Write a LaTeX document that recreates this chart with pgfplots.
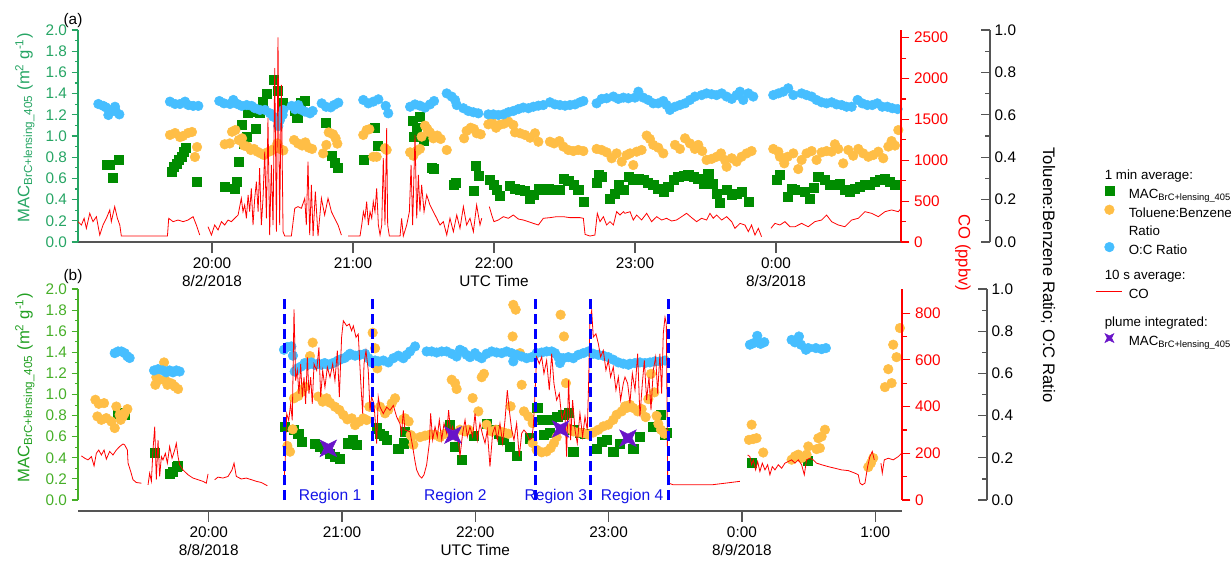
\documentclass[border=0pt]{standalone}
\usepackage{fontspec}
\setmainfont{Liberation Sans}
\usepackage{pgfplots}
\pgfplotsset{compat=1.18}

\definecolor{macg}{RGB}{0,140,0}
\definecolor{tbor}{RGB}{255,190,70}
\definecolor{ocb}{RGB}{70,190,255}
\definecolor{plum}{RGB}{105,20,200}
\definecolor{axA}{RGB}{38,165,100}
\definecolor{axB}{RGB}{70,175,40}
\definecolor{labB}{RGB}{34,160,34}
\definecolor{axgray}{RGB}{85,85,85}
\definecolor{regblue}{RGB}{20,20,230}

\pgfdeclareplotmark{star4}{%
 \pgfpathmoveto{\pgfqpoint{\pgfplotmarksize}{\pgfplotmarksize}}%
 \pgfpathlineto{\pgfqpoint{0pt}{0.5\pgfplotmarksize}}%
 \pgfpathlineto{\pgfqpoint{-\pgfplotmarksize}{\pgfplotmarksize}}%
 \pgfpathlineto{\pgfqpoint{-0.5\pgfplotmarksize}{0pt}}%
 \pgfpathlineto{\pgfqpoint{-\pgfplotmarksize}{-\pgfplotmarksize}}%
 \pgfpathlineto{\pgfqpoint{0pt}{-0.5\pgfplotmarksize}}%
 \pgfpathlineto{\pgfqpoint{\pgfplotmarksize}{-\pgfplotmarksize}}%
 \pgfpathlineto{\pgfqpoint{0.5\pgfplotmarksize}{0pt}}%
 \pgfpathclose\pgfusepathqfillstroke}

\newcommand\ft{\fontsize{11.5}{13.5}\selectfont}
\newcommand\fl{\fontsize{12.5}{14}\selectfont}
\newcommand\ls{\rule{0pt}{12.5pt}}
\newcommand\lsb{\rule{0pt}{17.5pt}}
\newcommand\lsc{\rule{0pt}{19.75pt}}

\pgfplotsset{
 /pgf/number format/assume math mode=true,
 every tick label/.append style={font=\ft},
 legmark/.style={legend image code/.code={\path[draw=none,fill=none] (0pt,-0.5pt) rectangle (19.5pt,0.5pt); \draw[##1] plot coordinates {(9.75pt,0pt)};}},
 legline/.style={legend image code/.code={\draw[##1] (0pt,0pt) -- (19.5pt,0pt);}},
 pa/.style={scale only axis, width=617.25pt, height=159pt, xmin=19.0496, xmax=24.887, anchor=south west, at={(58.5pt,-181.5pt)}},
 pb/.style={scale only axis, width=618pt, height=158.25pt, xmin=19.0195, xmax=25.201, anchor=south west, at={(58.5pt,-375pt)}},
 onefmt/.style={yticklabel style={/pgf/number format/fixed, /pgf/number format/fixed zerofill, /pgf/number format/precision=1}},
 macaxis/.style={ymin=0, ymax=2, hide x axis, axis y line*=left,
   y axis line style={draw=#1, line width=0.8pt, -},
   ytick={0,0.2,0.4,0.6,0.8,1.0,1.2,1.4,1.6,1.8,2.0}, minor y tick num=1,
   tick align=outside, major tick length=4.7pt, minor tick length=2.3pt,
   tick style={draw=#1, line width=0.8pt}, onefmt, yticklabel style={text=#1}},
 ratioaxis/.style={scale only axis, xmin=0, xmax=1, ymin=0, ymax=1, width=10pt, anchor=south west,
   hide x axis, axis y line*=right, y axis line style={draw=axgray, line width=0.9pt, -},
   ytick={0,0.2,0.4,0.6,0.8,1.0}, minor y tick num=1, tick align=inside,
   major tick length=6.75pt, minor tick length=3.75pt, tick style={draw=axgray, line width=0.9pt}, onefmt},
 coaxis/.style={hide x axis, axis y line*=right, y axis line style={draw=red, line width=0.8pt, -},
   minor y tick num=1, tick align=outside, major tick length=6.25pt, minor tick length=3.75pt,
   tick style={draw=red, line width=0.8pt}, yticklabel style={text=red, /pgf/number format/1000 sep={}},
   scaled y ticks=false, unbounded coords=jump},
 xaxisst/.style={ymin=0, ymax=1, hide y axis, axis x line*=bottom,
   x axis line style={draw=axgray, line width=0.9pt, -}, xticklabel style={align=center},
   tick align=outside, major tick length=8pt, tick style={draw=axgray, line width=0.9pt}},
 gsq/.style={only marks, mark=square*, mark size=3.4pt, color=macg},
 orc/.style={only marks, mark=*, mark size=3.6pt, color=tbor},
 blc/.style={only marks, mark=*, mark size=3.6pt, color=ocb},
 dsh/.style={draw=blue, line width=2.25pt, dash pattern=on 7.5pt off 3.5pt},
}

\begin{document}
\begin{tikzpicture}
\path[use as bounding box] (0pt,0pt) rectangle (924pt,-422.25pt);

% ================= PANEL (a) =================
\begin{axis}[pa, xaxisst, xtick={20,21,22,23,24},
  xticklabels={{20:00\\8/2/2018},{21:00},{22:00\\UTC Time},{23:00},{0:00\\8/3/2018}}]
\end{axis}

\begin{axis}[pa, macaxis=axA]
\addplot[gsq] coordinates {
(19.251,0.726)(19.275,0.726)(19.298,0.607)(19.338,0.773)(19.712,0.663)(19.731,0.711)(19.747,0.742)(19.766,0.774)
(19.783,0.805)(19.802,0.852)(19.811,0.89)(19.889,0.569)(20.09,0.522)(20.161,0.506)(20.173,0.569)(20.19,0.758)
(20.213,1.11)(20.227,0.931)(20.244,0.994)(20.256,1.223)(20.291,1.229)(20.308,1.072)(20.338,1.223)(20.362,1.324)
(20.386,1.402)(20.44,1.528)(20.464,1.424)(20.504,1.317)(20.587,1.236)(20.605,1.173)(20.629,1.317)(20.658,1.33)
(20.804,1.129)(20.847,0.814)(20.87,0.751)(20.889,0.701)(21.078,0.773)(21.156,1.078)(21.173,0.909)(21.423,1.141)
(21.433,0.994)(21.452,1.078)(21.475,1.182)(21.504,0.953)(21.558,0.701)(21.575,0.689)(21.712,0.544)(21.731,0.563)
(21.858,0.481)(21.873,0.72)(21.889,0.626)(21.972,0.585)(21.996,0.544)(22.019,0.49)(22.043,0.437)(22.114,0.531)
(22.149,0.506)(22.185,0.49)(22.22,0.481)(22.256,0.405)(22.279,0.443)(22.315,0.506)(22.35,0.49)(22.386,0.5)
(22.421,0.49)(22.468,0.49)(22.492,0.6)(22.527,0.575)(22.563,0.538)(22.598,0.49)(22.634,0.38)(22.728,0.563)
(22.74,0.632)(22.764,0.616)(22.823,0.412)(22.858,0.459)(22.882,0.544)(22.918,0.49)(22.953,0.616)(22.988,0.585)
(23.024,0.6)(23.059,0.585)(23.094,0.563)(23.13,0.538)(23.165,0.506)(23.201,0.475)(23.236,0.522)(23.272,0.585)
(23.307,0.616)(23.343,0.626)(23.378,0.632)(23.414,0.616)(23.449,0.594)(23.485,0.553)(23.52,0.648)(23.555,0.553)
(23.579,0.459)(23.603,0.374)(23.65,0.49)(23.686,0.443)(23.721,0.459)(23.756,0.475)(23.804,0.38)(24.005,0.585)
(24.028,0.638)(24.083,0.428)(24.111,0.5)(24.135,0.49)(24.206,0.475)(24.241,0.412)(24.265,0.512)(24.3,0.616)
(24.347,0.585)(24.383,0.544)(24.418,0.538)(24.454,0.553)(24.489,0.49)(24.525,0.475)(24.56,0.5)(24.596,0.522)
(24.631,0.538)(24.667,0.544)(24.702,0.569)(24.737,0.585)(24.773,0.594)(24.809,0.569)(24.844,0.544)};
\end{axis}

\begin{axis}[pa, ymin=0, ymax=1, hide axis]
\addplot[orc] coordinates {
(19.702,0.505)(19.738,0.514)(19.773,0.495)(19.794,0.5)(19.83,0.514)(19.858,0.519)(19.879,0.401)(19.894,0.448)
(20.09,0.461)(20.126,0.465)(20.142,0.52)(20.166,0.528)(20.19,0.481)(20.213,0.489)(20.227,0.455)(20.251,0.45)
(20.275,0.434)(20.298,0.439)(20.322,0.426)(20.346,0.418)(20.369,0.41)(20.393,0.423)(20.416,0.429)(20.44,0.439)
(20.464,0.465)(20.483,0.439)(20.506,0.432)(20.582,0.481)(20.61,0.465)(20.639,0.455)(20.662,0.47)(20.686,0.445)
(20.71,0.439)(20.788,0.418)(20.811,0.458)(20.828,0.517)(20.859,0.508)(20.877,0.489)(20.889,0.464)(21.073,0.505)
(21.097,0.528)(21.116,0.532)(21.144,0.402)(21.168,0.402)(21.227,0.442)(21.239,0.434)(21.405,0.423)(21.428,0.407)
(21.452,0.429)(21.475,0.439)(21.487,0.497)(21.511,0.549)(21.527,0.533)(21.546,0.517)(21.57,0.489)(21.598,0.502)
(21.622,0.486)(21.665,0.434)(21.788,0.489)(21.806,0.524)(21.835,0.539)(21.858,0.533)(21.877,0.513)(21.906,0.508)
(21.96,0.555)(21.984,0.568)(22.015,0.539)(22.038,0.552)(22.071,0.558)(22.102,0.568)(22.137,0.552)(22.149,0.517)
(22.185,0.513)(22.22,0.505)(22.256,0.492)(22.291,0.513)(22.315,0.473)(22.397,0.473)(22.426,0.465)(22.464,0.476)
(22.492,0.45)(22.527,0.434)(22.563,0.429)(22.598,0.434)(22.634,0.429)(22.728,0.439)(22.764,0.434)(22.799,0.423)
(22.835,0.395)(22.87,0.418)(22.906,0.379)(22.941,0.41)(22.965,0.418)(22.988,0.363)(23.012,0.426)(23.047,0.434)
(23.083,0.502)(23.106,0.486)(23.13,0.458)(23.165,0.445)(23.201,0.418)(23.284,0.458)(23.319,0.439)(23.355,0.489)
(23.39,0.465)(23.425,0.439)(23.449,0.458)(23.477,0.429)(23.508,0.387)(23.544,0.392)(23.579,0.402)(23.61,0.418)
(23.638,0.387)(23.65,0.355)(23.686,0.395)(23.721,0.379)(23.756,0.402)(23.792,0.418)(23.827,0.429)(23.981,0.439)
(24.017,0.426)(24.028,0.402)(24.059,0.371)(24.083,0.402)(24.123,0.418)(24.158,0.344)(24.182,0.387)(24.217,0.418)
(24.253,0.429)(24.288,0.387)(24.324,0.423)(24.359,0.429)(24.395,0.426)(24.418,0.461)(24.442,0.439)(24.477,0.371)
(24.513,0.434)(24.548,0.407)(24.584,0.439)(24.619,0.418)(24.655,0.402)(24.69,0.41)(24.726,0.426)(24.761,0.395)
(24.797,0.45)(24.82,0.476)(24.844,0.455)(24.868,0.528)};
\addplot[blc] coordinates {
(19.194,0.651)(19.229,0.642)(19.248,0.635)(19.265,0.599)(19.272,0.623)(19.312,0.638)(19.319,0.615)(19.343,0.602)
(19.702,0.662)(19.738,0.651)(19.773,0.651)(19.809,0.662)(19.832,0.646)(19.867,0.642)(19.903,0.642)(20.052,0.665)
(20.085,0.654)(20.128,0.651)(20.151,0.67)(20.18,0.651)(20.21,0.642)(20.246,0.646)(20.281,0.642)(20.305,0.631)
(20.34,0.623)(20.376,0.623)(20.411,0.607)(20.435,0.591)(20.459,0.583)(20.47,0.547)(20.482,0.575)(20.501,0.599)
(20.506,0.623)(20.565,0.642)(20.589,0.626)(20.612,0.646)(20.636,0.623)(20.66,0.615)(20.695,0.607)(20.714,0.618)
(20.778,0.654)(20.809,0.638)(20.842,0.635)(20.865,0.646)(20.896,0.657)(21.073,0.67)(21.109,0.654)(21.144,0.662)
(21.18,0.673)(21.232,0.642)(21.25,0.607)(21.405,0.638)(21.44,0.649)(21.475,0.643)(21.511,0.634)(21.546,0.649)
(21.575,0.665)(21.665,0.701)(21.7,0.686)(21.724,0.67)(21.736,0.646)(21.783,0.631)(21.818,0.618)(21.854,0.612)
(21.889,0.607)(21.96,0.602)(21.996,0.602)(22.031,0.599)(22.067,0.602)(22.102,0.612)(22.137,0.618)(22.173,0.627)
(22.208,0.634)(22.244,0.631)(22.279,0.638)(22.315,0.643)(22.35,0.646)(22.397,0.659)(22.433,0.649)(22.468,0.646)
(22.504,0.643)(22.539,0.646)(22.575,0.649)(22.61,0.659)(22.634,0.665)(22.728,0.654)(22.764,0.675)(22.799,0.678)
(22.847,0.686)(22.882,0.675)(22.918,0.681)(22.953,0.678)(23.0,0.681)(23.024,0.709)(23.059,0.681)(23.094,0.67)
(23.13,0.654)(23.165,0.654)(23.201,0.665)(23.224,0.646)(23.248,0.623)(23.284,0.638)(23.319,0.646)(23.355,0.654)
(23.39,0.67)(23.425,0.686)(23.473,0.693)(23.508,0.701)(23.544,0.697)(23.579,0.693)(23.615,0.701)(23.65,0.686)
(23.686,0.675)(23.721,0.693)(23.745,0.709)(23.768,0.67)(23.804,0.701)(23.839,0.686)(23.981,0.693)(24.017,0.701)
(24.052,0.709)(24.087,0.725)(24.123,0.693)(24.182,0.701)(24.217,0.693)(24.253,0.686)(24.288,0.67)(24.324,0.659)
(24.359,0.654)(24.395,0.659)(24.43,0.649)(24.466,0.646)(24.501,0.638)(24.537,0.638)(24.579,0.67)(24.612,0.654)
(24.648,0.646)(24.683,0.646)(24.719,0.654)(24.754,0.638)(24.79,0.638)(24.825,0.631)(24.863,0.627)};
\end{axis}

\begin{axis}[pa, coaxis, ymin=0, ymax=2594, ytick={0,500,1000,1500,2000,2500}]
\addplot[red, line width=0.6pt] coordinates {
(19.05,249)(19.074,208)(19.093,290)(19.109,167)(19.133,351)(19.156,249)(19.18,310)(19.204,85)(19.227,208)(19.251,290)
(19.275,392)(19.286,249)(19.31,433)(19.329,290)(19.346,208)(19.357,73)(19.684,73)(19.693,290)(19.724,249)(19.759,269)
(19.795,249)(19.83,269)(19.866,310)(19.889,208)(19.913,85)(19.94,nan)
(19.972,187)(19.996,85)(20.019,208)(20.043,147)(20.067,249)(20.09,208)(20.114,269)(20.137,249)(20.161,290)(20.185,330)
(20.208,535)(20.22,371)(20.232,453)(20.244,290)(20.256,576)(20.267,371)(20.279,657)(20.291,208)(20.303,535)(20.315,739)
(20.327,371)(20.338,903)(20.35,208)(20.362,535)(20.374,1107)(20.386,290)(20.397,1516)(20.409,85)(20.421,944)(20.433,208)
(20.445,2129)(20.457,126)(20.468,2505)(20.48,208)(20.492,1924)(20.504,126)(20.516,73)(20.563,73)(20.587,412)(20.61,433)
(20.634,412)(20.658,535)(20.669,208)(20.681,984)(20.693,85)(20.705,698)(20.717,73)(20.733,617)(20.752,73)(20.776,535)
(20.799,330)(20.823,535)(20.847,371)(20.87,290)(20.894,208)(20.918,85)(20.95,nan)
(20.965,73)(21.05,73)(21.062,208)(21.074,371)(21.085,290)(21.097,494)(21.109,208)(21.121,371)(21.133,290)(21.144,494)
(21.156,371)(21.168,657)(21.18,208)(21.192,85)(21.204,208)(21.215,1025)(21.227,208)(21.239,1393)(21.246,208)(21.258,73)
(21.334,73)(21.345,290)(21.357,73)(21.381,208)(21.4,371)(21.412,944)(21.423,208)(21.44,1311)(21.452,290)(21.464,821)
(21.475,371)(21.487,698)(21.504,371)(21.523,576)(21.546,453)(21.57,371)(21.594,290)(21.617,208)(21.641,249)(21.665,85)
(21.688,290)(21.712,126)(21.736,330)(21.759,167)(21.783,433)(21.806,208)(21.83,290)(21.854,126)(21.877,453)(21.901,208)
(21.913,290)(21.94,nan)
(21.967,433)(21.984,330)(22.0,249)(22.031,269)(22.067,310)(22.102,290)(22.137,330)(22.173,281)(22.208,269)(22.244,249)
(22.279,228)(22.315,208)(22.35,290)(22.397,298)(22.445,310)(22.492,310)(22.539,298)(22.61,298)(22.634,290)(22.646,93)
(22.681,73)(22.716,85)(22.733,351)(22.752,249)(22.776,310)(22.799,208)(22.823,249)(22.847,208)(22.87,371)(22.894,330)
(22.918,371)(22.929,351)(22.965,371)(22.988,269)(23.012,330)(23.047,269)(23.083,351)(23.118,249)(23.154,310)(23.189,269)
(23.224,290)(23.26,257)(23.295,269)(23.331,310)(23.366,351)(23.402,298)(23.437,249)(23.473,290)(23.508,269)(23.532,351)
(23.555,290)(23.579,330)(23.615,269)(23.65,310)(23.686,249)(23.709,167)(23.745,228)(23.78,208)(23.804,126)(23.827,208)
(23.851,85)(23.875,167)(23.898,65)(23.93,nan)
(23.964,167)(23.993,228)(24.028,208)(24.064,249)(24.099,187)(24.135,187)(24.182,228)(24.229,187)(24.276,249)(24.324,269)
(24.359,330)(24.395,249)(24.442,208)(24.489,187)(24.537,269)(24.584,290)(24.631,371)(24.678,351)(24.726,310)(24.773,371)
(24.82,392)(24.868,371)(24.887,412)};
\end{axis}

\begin{axis}[ratioaxis, height=159pt, at={(732.5pt,-181.5pt)}]
\end{axis}

% ================= PANEL (b) =================
\begin{axis}[pb, xaxisst, height=166.5pt, at={(58.5pt,-383.25pt)}, xtick={20,21,22,23,24,25},
  xticklabels={{20:00\\8/8/2018},{21:00},{22:00\\UTC Time},{23:00},{0:00\\8/9/2018},{1:00}}]
\end{axis}

\begin{axis}[pb, macaxis=axB]
\addplot[gsq] coordinates {
(19.315,0.818)(19.345,0.831)(19.37,0.809)(19.595,0.452)(19.707,0.25)(19.732,0.272)(19.757,0.319)(19.77,0.325)
(20.572,0.695)(20.635,0.664)(20.672,0.632)(20.698,0.553)(20.797,0.531)(20.835,0.506)(20.872,0.49)(20.91,0.442)
(20.947,0.411)(20.985,0.395)(21.047,0.538)(21.08,0.569)(21.11,0.522)(21.26,0.68)(21.285,0.632)(21.31,0.607)
(21.333,0.575)(21.422,0.49)(21.46,0.538)(21.473,0.648)(21.81,0.71)(21.848,0.505)(21.898,0.385)(21.985,0.607)
(22.085,0.72)(22.135,0.67)(22.173,0.632)(22.21,0.569)(22.26,0.506)(22.31,0.417)(22.41,0.585)(22.465,0.872)
(22.498,0.762)(22.515,0.62)(22.56,0.635)(22.573,0.762)(22.615,0.793)(22.66,0.809)(22.698,0.825)(22.735,0.667)
(22.735,0.458)(22.785,0.635)(22.823,0.629)(22.911,0.49)(22.948,0.553)(22.986,0.569)(23.035,0.458)(23.085,0.537)
(23.185,0.49)(23.235,0.6)(23.335,0.695)(23.391,0.805)(23.423,0.616)(23.438,0.635)(24.073,0.351)(24.493,0.376)};
\end{axis}

\begin{axis}[pb, ymin=0, ymax=1, hide axis]
\addplot[orc] coordinates {
(19.15,0.475)(19.165,0.396)(19.175,0.456)(19.195,0.38)(19.215,0.459)(19.232,0.388)(19.27,0.372)(19.295,0.341)
(19.307,0.443)(19.332,0.404)(19.34,0.38)(19.357,0.396)(19.37,0.412)(19.39,0.431)(19.6,0.546)(19.607,0.582)
(19.632,0.57)(19.665,0.652)(19.675,0.567)(19.69,0.546)(19.7,0.557)(19.725,0.551)(19.745,0.538)(19.77,0.526)
(20.59,0.256)(20.61,0.229)(20.63,0.335)(20.64,0.482)(20.672,0.493)(20.698,0.513)(20.722,0.537)(20.76,0.682)
(20.78,0.746)(20.822,0.49)(20.855,0.466)(20.885,0.482)(20.91,0.461)(20.947,0.442)(20.98,0.427)(21.01,0.403)
(21.04,0.382)(21.073,0.387)(21.098,0.355)(21.13,0.371)(21.16,0.387)(21.185,0.379)(21.205,0.442)(21.23,0.793)
(21.248,0.719)(21.265,0.624)(21.285,0.442)(21.323,0.411)(21.347,0.427)(21.373,0.458)(21.398,0.482)(21.46,0.383)
(21.473,0.387)(21.5,0.372)(21.515,0.308)(21.523,0.301)(21.535,0.262)(21.585,0.298)(21.623,0.305)(21.66,0.31)
(21.698,0.31)(21.735,0.298)(21.773,0.314)(21.823,0.57)(21.848,0.554)(21.86,0.526)(21.885,0.333)(21.923,0.325)
(21.948,0.333)(21.98,0.483)(22.023,0.42)(22.048,0.582)(22.065,0.598)(22.085,0.357)(22.123,0.325)(22.155,0.333)
(22.185,0.325)(22.215,0.32)(22.248,0.314)(22.265,0.444)(22.28,0.775)(22.285,0.925)(22.303,0.902)(22.335,0.696)
(22.348,0.546)(22.365,0.42)(22.398,0.396)(22.43,0.364)(22.43,0.27)(22.46,0.238)(22.498,0.226)(22.535,0.23)
(22.565,0.246)(22.59,0.27)(22.61,0.298)(22.64,0.878)(22.665,0.775)(22.68,0.554)(22.698,0.34)(22.735,0.325)
(22.773,0.32)(22.81,0.317)(22.848,0.31)(22.885,0.32)(22.923,0.333)(22.96,0.349)(22.998,0.357)(23.035,0.38)
(23.06,0.404)(23.098,0.42)(23.123,0.444)(23.135,0.436)(23.153,0.447)(23.16,0.451)(23.185,0.436)(23.218,0.42)
(23.248,0.431)(23.278,0.393)(23.298,0.478)(23.318,0.598)(23.343,0.51)(23.36,0.399)(23.373,0.361)(23.393,0.333)
(23.418,0.314)(24.053,0.285)(24.073,0.357)(24.085,0.289)(24.11,0.293)(24.16,0.225)(24.373,0.191)(24.398,0.207)
(24.423,0.215)(24.448,0.199)(24.485,0.215)(24.498,0.254)(24.56,0.241)(24.573,0.293)(24.585,0.246)(24.598,0.301)
(24.623,0.333)(24.948,0.156)(24.968,0.175)(24.985,0.199)(25.073,0.535)(25.098,0.62)(25.123,0.554)(25.135,0.736)
(25.16,0.677)(25.185,0.815)};
\addplot[blc] coordinates {
(19.295,0.696)(19.32,0.704)(19.345,0.704)(19.37,0.696)(19.39,0.681)(19.407,0.673)(19.59,0.614)(19.62,0.62)
(19.657,0.614)(19.682,0.605)(19.707,0.614)(19.732,0.605)(19.757,0.614)(19.782,0.609)(20.565,0.712)(20.59,0.725)
(20.62,0.728)(20.632,0.684)(20.645,0.609)(20.67,0.625)(20.695,0.633)(20.72,0.649)(20.745,0.641)(20.77,0.652)
(20.795,0.641)(20.82,0.646)(20.845,0.641)(20.87,0.649)(20.895,0.641)(20.92,0.646)(20.945,0.652)(20.97,0.661)
(20.995,0.668)(21.02,0.673)(21.045,0.684)(21.06,0.693)(21.098,0.684)(21.135,0.688)(21.173,0.693)(21.198,0.672)
(21.223,0.652)(21.248,0.661)(21.273,0.657)(21.31,0.661)(21.348,0.652)(21.385,0.672)(21.423,0.684)(21.46,0.672)
(21.485,0.688)(21.51,0.704)(21.548,0.728)(21.635,0.704)(21.673,0.704)(21.71,0.699)(21.748,0.704)(21.785,0.704)
(21.823,0.693)(21.86,0.68)(21.885,0.712)(21.91,0.704)(21.935,0.688)(21.96,0.677)(21.998,0.696)(22.023,0.68)
(22.048,0.672)(22.085,0.693)(22.123,0.704)(22.16,0.699)(22.198,0.696)(22.235,0.704)(22.273,0.696)(22.285,0.657)
(22.31,0.688)(22.348,0.68)(22.385,0.672)(22.423,0.677)(22.46,0.696)(22.498,0.699)(22.535,0.704)(22.573,0.704)
(22.598,0.696)(22.623,0.677)(22.635,0.649)(22.66,0.672)(22.698,0.677)(22.735,0.672)(22.773,0.688)(22.81,0.696)
(22.848,0.704)(22.885,0.693)(22.923,0.688)(22.96,0.684)(22.998,0.677)(23.035,0.665)(23.073,0.652)(23.11,0.646)
(23.148,0.641)(23.16,0.646)(23.198,0.649)(23.235,0.652)(23.273,0.649)(23.31,0.652)(23.348,0.657)(23.385,0.657)
(23.423,0.661)(24.06,0.736)(24.09,0.744)(24.115,0.778)(24.14,0.74)(24.168,0.748)(24.373,0.759)(24.398,0.747)
(24.428,0.775)(24.443,0.736)(24.48,0.712)(24.498,0.72)(24.555,0.72)(24.598,0.715)(24.63,0.72)};
\end{axis}

\begin{axis}[pb, coaxis, ymin=0, ymax=904, ytick={0,200,400,600,800}]
\addplot[red, line width=0.6pt] coordinates {
(19.045,189)(19.07,179)(19.095,172)(19.12,186)(19.14,146)(19.157,200)(19.175,214)(19.195,193)(19.215,214)(19.232,175)
(19.257,208)(19.282,193)(19.307,214)(19.332,229)(19.357,240)(19.37,236)(19.39,214)(19.395,158)(19.415,122)(19.432,87)
(19.457,75)(19.495,72)(19.52,nan)
(19.545,65)(19.557,115)(19.57,80)(19.582,214)(19.595,314)(19.607,87)(19.62,257)(19.632,101)(19.645,186)(19.657,172)
(19.675,200)(19.69,158)(19.707,229)(19.725,179)(19.745,214)(19.757,243)(19.77,186)(19.782,151)(19.807,129)(19.845,108)
(19.882,94)(19.92,87)(19.957,80)(19.982,72)(19.995,112)(20.02,nan)
(20.045,87)(20.07,98)(20.107,94)(20.145,101)(20.175,129)(20.19,158)(20.207,101)(20.245,90)(20.282,94)(20.32,87)
(20.357,80)(20.395,75)(20.44,61)(20.5,nan)
(20.565,71)(20.575,185)(20.585,370)(20.6,341)(20.615,412)(20.627,341)(20.64,817)(20.652,512)(20.665,555)(20.677,455)
(20.69,583)(20.702,441)(20.715,526)(20.727,412)(20.74,611)(20.752,455)(20.765,526)(20.777,412)(20.79,583)(20.81,555)
(20.827,654)(20.84,441)(20.855,555)(20.872,483)(20.89,569)(20.91,526)(20.93,583)(20.947,512)(20.965,640)(20.98,441)
(20.997,697)(21.01,768)(21.035,746)(21.055,754)(21.072,725)(21.085,746)(21.105,697)(21.122,711)(21.14,512)(21.155,370)
(21.165,583)(21.18,640)(21.197,555)(21.21,384)(21.222,441)(21.24,412)(21.247,356)(21.26,242)(21.272,441)(21.285,398)
(21.31,370)(21.335,398)(21.36,384)(21.385,405)(21.41,356)(21.435,327)(21.447,284)(21.46,384)(21.472,299)
(21.51,293)(21.53,229)(21.548,165)(21.56,129)(21.58,104)(21.598,94)(21.615,108)(21.635,151)(21.655,243)(21.665,371)
(21.68,257)(21.698,314)(21.715,271)(21.73,343)(21.748,257)(21.765,328)(21.785,286)(21.8,385)(21.815,286)(21.83,314)
(21.848,257)(21.865,300)(21.885,186)(21.905,286)(21.923,343)(21.94,271)(21.96,314)(21.98,271)(21.998,371)(22.015,257)
(22.035,328)(22.055,279)(22.073,243)(22.09,300)(22.11,143)(22.13,286)(22.148,314)(22.165,257)(22.185,328)(22.205,243)
(22.223,343)(22.24,471)(22.255,385)(22.273,300)(22.29,257)(22.31,328)(22.33,186)(22.348,286)(22.365,300)(22.385,286)
(22.405,257)(22.423,264)(22.435,314)(22.448,456)(22.46,613)(22.48,584)(22.498,613)(22.515,542)(22.535,598)(22.555,471)
(22.573,627)(22.59,499)(22.61,428)(22.63,456)(22.65,343)(22.672,385)(22.685,186)(22.7,513)(22.715,257)(22.73,428)
(22.748,300)(22.765,243)(22.785,371)(22.805,271)(22.823,357)(22.84,300)(22.85,499)(22.86,769)(22.873,812)(22.885,698)
(22.905,712)(22.923,670)(22.94,613)(22.96,641)(22.98,556)(22.998,598)(23.015,527)(23.035,570)(23.055,471)(23.073,527)
(23.09,428)(23.11,499)(23.123,527)(23.143,499)(23.16,414)(23.178,542)(23.198,471)(23.218,627)(23.235,357)(23.253,499)
(23.268,598)(23.285,428)(23.303,527)(23.318,385)(23.335,556)(23.353,613)(23.368,456)(23.385,627)(23.398,456)(23.41,712)
(23.423,783)(23.433,755)(23.443,101)(23.453,72)(23.485,65)(23.56,65)(23.673,65)(23.773,65)(23.873,72)(23.985,80)(24.01,nan)
(24.043,193)(24.06,186)(24.073,151)(24.085,172)(24.103,129)(24.118,165)(24.135,122)(24.153,158)(24.173,129)(24.193,151)
(24.21,108)(24.228,143)(24.248,129)(24.273,151)(24.298,136)(24.323,158)(24.348,165)(24.373,172)(24.398,158)(24.423,172)
(24.448,151)(24.468,108)(24.485,172)(24.51,179)(24.535,172)(24.56,158)(24.598,151)(24.648,143)(24.698,136)(24.748,129)
(24.798,126)(24.848,115)(24.873,108)(24.886,72)(24.903,65)(24.923,72)(24.943,143)(24.96,186)(24.978,208)(24.993,172)(25.02,nan)
(25.043,158)(25.053,115)(25.068,172)(25.098,179)(25.135,172)(25.173,186)(25.198,200)};
\end{axis}

\begin{axis}[ratioaxis, height=158.25pt, at={(730.25pt,-375pt)}]
\end{axis}

\begin{axis}[pb, ymin=0, ymax=2, hide axis, clip=false]
\addplot[dsh] coordinates {(20.565,0) (20.565,1.915)};
\addplot[dsh] coordinates {(21.23,0) (21.23,1.915)};
\addplot[dsh] coordinates {(22.448,0) (22.448,1.915)};
\addplot[dsh] coordinates {(22.865,0) (22.865,1.915)};
\addplot[dsh] coordinates {(23.448,0) (23.448,1.915)};
\addplot[only marks, mark=star4, mark size=6.2pt, color=plum] coordinates {(20.897,0.49)(21.833,0.616)(22.64,0.673)(23.145,0.586)};
\node[text=regblue, font=\fontsize{11.7}{13}\selectfont] at (axis cs:20.91,0.035) {Region 1};
\node[text=regblue, font=\fontsize{11.7}{13}\selectfont] at (axis cs:21.851,0.035) {Region 2};
\node[text=regblue, font=\fontsize{11.7}{13}\selectfont] at (axis cs:22.604,0.035) {Region 3};
\node[text=regblue, font=\fontsize{11.7}{13}\selectfont] at (axis cs:23.176,0.035) {Region 4};
\end{axis}

% ================= LABELS =================
\node[font=\ft] at (54.75pt,-15.75pt) {(a)};
\node[font=\ft] at (54.75pt,-207.75pt) {(b)};
\node[rotate=90, text=axA, font=\fl] at (18.75pt,-96pt) {MAC\textsubscript{BrC+lensing\_405} (m\textsuperscript{2} g\textsuperscript{-1})};
\node[rotate=90, text=labB, font=\fl] at (18.75pt,-291pt) {MAC\textsubscript{BrC+lensing\_405} (m\textsuperscript{2} g\textsuperscript{-1})};
\node[rotate=-90, text=red, font=\fl] at (722.25pt,-189.75pt) {CO (ppbv)};
\node[rotate=-90, font=\fl] at (786pt,-206.25pt) {Toluene:Benzene Ratio; O:C Ratio};

% ================= LEGEND =================
\begin{axis}[scale only axis, width=1pt, height=1pt, anchor=north west, at={(822pt,-122.3pt)},
  hide axis, xmin=0, xmax=1, ymin=0, ymax=1, legend cell align=left,
  legend style={at={(0,1)}, anchor=north west, draw=none, fill=none, inner sep=0pt, outer sep=0pt,
    row sep=0pt, nodes={inner sep=0pt}, font=\fontsize{10}{12.3}\selectfont,
    /tikz/every odd column/.append style={column sep=4.5pt}}]
\addlegendimage{empty legend}\addlegendentry{\ls\hspace*{-18pt}1 min average:}
\addlegendimage{legmark, only marks, mark=square*, mark size=3.4pt, color=macg}\addlegendentry{\ls MAC\textsubscript{BrC+lensing\_405}}
\addlegendimage{legmark, only marks, mark=*, mark size=3.6pt, color=tbor}\addlegendentry{\ls Toluene:Benzene}
\addlegendimage{empty legend}\addlegendentry{\ls Ratio}
\addlegendimage{legmark, only marks, mark=*, mark size=3.6pt, color=ocb}\addlegendentry{\ls O:C Ratio}
\addlegendimage{empty legend}\addlegendentry{\lsb\hspace*{-18pt}10 s average:}
\addlegendimage{legline, red, line width=0.6pt}\addlegendentry{\ls CO}
\addlegendimage{empty legend}\addlegendentry{\lsc\hspace*{-18pt}plume integrated:}
\addlegendimage{legmark, only marks, mark=star4, mark size=3.3pt, color=plum}\addlegendentry{\ls MAC\textsubscript{BrC+lensing\_405}}
\end{axis}
\end{tikzpicture}
\end{document}
